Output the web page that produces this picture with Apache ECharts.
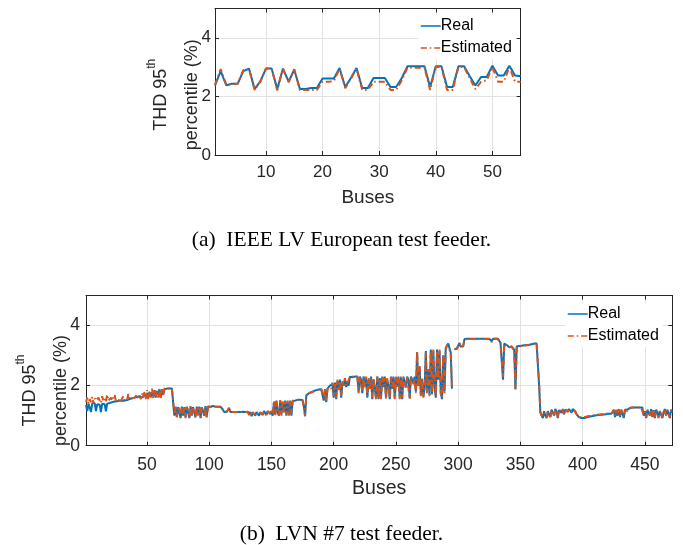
<!DOCTYPE html>
<html><head><meta charset="utf-8">
<script src="https://cdn.jsdelivr.net/npm/echarts@6.0.0/dist/echarts.min.js"></script>
<style>html,body{margin:0;padding:0;background:#fff}#c{width:683px;height:545px}</style>
</head><body><div id="c"></div>
<script>
// ---- data (a) IEEE LV European test feeder, buses 1..55 ----
const realA = [2.37,2.86,2.38,2.43,2.43,2.86,2.95,2.25,2.51,2.95,
  2.95,2.25,2.95,2.51,2.91,2.25,2.25,2.29,2.29,2.61,
  2.61,2.61,2.97,2.32,2.63,2.97,2.29,2.29,2.63,2.63,
  2.63,2.32,2.32,2.63,3.03,3.03,3.03,3.03,2.32,3.03,
  3.03,2.32,2.32,3.03,3.03,2.69,2.37,2.66,2.66,3.05,
  2.71,2.71,3.05,2.71,2.69];
const estA = [2.40,2.93,2.40,2.43,2.43,2.90,2.93,2.22,2.50,2.95,
  2.95,2.20,2.95,2.48,2.93,2.22,2.22,2.22,2.22,2.50,
  2.50,2.52,2.95,2.28,2.60,2.95,2.22,2.22,2.50,2.50,
  2.50,2.22,2.22,2.55,2.98,2.98,2.98,2.98,2.22,3.00,
  3.00,2.22,2.22,3.00,3.00,2.62,2.25,2.50,2.55,3.00,
  2.50,2.50,3.00,2.50,2.50];
// ---- data (b) LVN #7 test feeder, buses 1..472 ----
const realB = [1.35,1.15,1.4,1.38,1.12,1.4,1.36,1.42,1.15,1.38,
  1.4,1.36,1.12,1.4,1.42,1.38,1.14,1.4,1.45,1.42,
  1.48,1.45,1.5,1.47,1.5,1.48,1.52,1.5,1.48,1.5,
  1.52,1.5,1.55,1.52,1.5,1.55,1.6,1.58,1.62,1.6,
  1.58,1.62,1.6,1.65,1.62,1.6,1.65,1.7,1.62,1.75,
  1.6,1.8,1.62,1.78,1.65,1.85,1.6,1.82,1.7,1.88,
  1.62,1.85,1.7,1.88,1.9,1.9,1.9,1.9,1.9,1.9,
  1.92,1.0,1.3,0.95,1.28,1.25,0.92,1.3,1.0,1.28,
  0.95,1.3,1.25,0.92,1.3,1.0,1.28,1.3,0.95,1.3,
  1.05,1.3,0.92,1.28,1.3,1.0,1.32,0.95,1.3,1.28,
  1.3,1.3,1.32,1.3,1.3,1.28,1.3,1.3,1.3,1.3,
  1.2,1.12,1.12,1.12,1.15,1.25,1.12,1.12,1.12,1.12,
  1.12,1.12,1.12,1.13,1.12,1.12,1.13,1.12,1.12,1.12,
  1.13,1.05,1.12,0.98,1.1,1.12,1.0,1.12,1.1,1.0,
  1.12,1.15,1.02,1.15,1.1,1.02,1.15,1.12,1.05,1.15,
  1.0,1.45,1.05,1.5,1.1,1.0,1.48,1.05,1.45,1.15,
  1.5,1.0,1.45,1.05,1.5,1.0,1.48,1.5,1.5,1.52,
  1.53,1.53,1.53,1.54,1.52,1.3,0.98,1.68,1.72,1.74,
  1.76,1.78,1.8,1.82,1.83,1.85,1.86,1.87,1.88,1.88,
  1.9,1.5,1.88,1.45,1.9,1.92,2.0,1.95,2.05,1.6,
  2.1,1.55,2.15,1.9,2.2,1.6,2.1,2.0,2.2,1.95,
  2.15,2.0,2.3,2.3,2.28,2.3,2.3,2.32,2.3,1.8,
  2.3,2.2,1.75,2.3,2.0,2.25,1.6,2.2,1.9,2.3,
  1.55,2.2,1.9,1.6,2.3,1.55,2.25,1.6,2.3,1.95,
  2.3,1.6,2.2,2.0,1.55,2.3,1.9,2.3,1.6,2.25,
  2.0,2.3,1.6,2.25,1.55,2.3,2.1,1.95,2.3,2.2,
  1.6,2.3,2.25,2.1,2.3,1.8,3.1,2.0,2.6,1.7,
  2.2,1.65,1.9,3.15,1.8,2.5,1.7,3.2,1.75,3.15,
  2.0,1.6,3.2,2.2,3.15,1.75,1.55,3.0,1.8,3.25,
  3.3,3.4,3.25,3.1,1.9,null,3.2,3.22,3.25,3.2,
  3.42,3.3,3.25,3.3,3.55,3.56,3.56,3.55,3.56,3.56,
  3.56,3.56,3.56,3.56,3.56,3.56,3.56,3.56,3.56,3.56,
  3.56,3.56,3.56,3.56,3.56,3.56,3.48,3.56,3.56,3.57,
  3.57,3.56,3.52,3.42,3.4,2.2,3.4,3.45,3.35,3.3,
  3.28,3.3,3.3,3.32,3.2,1.87,3.3,3.3,3.32,3.32,
  3.33,3.33,3.34,3.34,3.35,3.35,3.36,3.37,3.38,3.38,
  3.4,3.4,3.4,3.4,2.0,1.1,1.05,0.92,1.15,1.0,
  0.92,1.15,1.1,0.95,1.2,1.1,1.0,1.22,1.15,0.92,
  1.18,1.2,1.1,1.22,1.05,1.2,1.22,1.15,1.22,1.2,
  1.1,1.22,1.2,1.15,1.05,1.0,0.95,0.92,0.92,0.92,
  0.92,0.93,0.94,0.95,0.96,0.97,0.98,0.99,1.0,1.0,
  1.01,1.02,1.02,1.03,1.03,1.04,1.04,1.05,1.05,1.05,
  1.06,1.06,1.06,1.07,1.2,0.95,1.18,1.0,1.22,0.95,
  1.2,1.15,0.92,1.2,1.15,1.2,1.25,1.25,1.26,1.27,
  1.27,1.27,1.27,1.27,1.27,1.27,1.26,1.27,1.0,1.15,
  0.92,1.18,1.2,1.0,1.22,0.95,1.18,0.92,1.2,1.1,
  0.95,1.15,1.2,0.92,1.1,1.22,1.0,1.2,1.15,0.92,
  1.2,1.1];
const estB = [1.45,1.6,1.4,1.55,1.45,1.62,1.4,1.58,1.5,1.45,
  1.6,1.5,1.42,1.65,1.48,1.55,1.45,1.7,1.5,1.55,
  1.6,1.5,1.52,1.7,1.5,1.55,1.48,1.58,1.5,1.52,
  1.65,1.5,1.55,1.52,1.72,1.55,1.6,1.58,1.62,1.6,
  1.6,1.7,1.58,1.65,1.55,1.75,1.6,1.8,1.55,1.85,
  1.55,1.8,1.6,1.9,1.55,1.88,1.65,1.85,1.6,1.9,
  1.55,1.88,1.65,1.9,1.85,1.9,1.88,1.9,1.9,1.9,
  1.9,1.05,1.28,0.95,1.3,1.2,0.95,1.28,1.05,1.3,
  0.92,1.28,1.2,0.95,1.32,1.0,1.25,1.3,0.92,1.28,
  1.0,1.3,0.95,1.3,1.25,1.05,1.3,0.92,1.32,1.25,
  1.3,1.3,1.3,1.3,1.3,1.3,1.3,1.3,1.3,1.28,
  1.18,1.12,1.12,1.12,1.18,1.28,1.1,1.12,1.12,1.12,
  1.12,1.12,1.12,1.12,1.12,1.12,1.12,1.12,1.12,1.12,
  1.12,1.02,1.1,1.0,1.12,1.1,1.02,1.1,1.12,1.02,
  1.1,1.15,1.05,1.12,1.12,1.0,1.15,1.1,1.08,1.18,
  1.05,1.5,1.02,1.48,1.15,1.02,1.52,1.0,1.5,1.1,
  1.48,1.05,1.5,1.0,1.48,1.05,1.5,1.5,1.52,1.5,
  1.52,1.53,1.52,1.53,1.5,1.25,1.0,1.7,1.72,1.75,
  1.77,1.78,1.8,1.81,1.83,1.85,1.86,1.86,1.88,1.9,
  1.88,1.55,1.9,1.5,1.88,1.95,2.0,1.9,2.1,1.65,
  2.05,1.6,2.2,1.85,2.15,1.65,2.15,1.95,2.25,2.0,
  2.1,2.05,2.28,2.3,2.3,2.28,2.32,2.3,2.3,1.75,
  2.28,2.25,1.8,2.3,1.95,2.3,1.65,2.25,1.85,2.28,
  1.6,2.25,1.85,1.55,2.3,1.6,2.2,1.55,2.28,2.0,
  2.25,1.55,2.25,1.95,1.6,2.28,1.95,2.25,1.55,2.3,
  1.95,2.25,1.55,2.3,1.6,2.25,2.15,1.9,2.28,2.25,
  1.55,2.28,2.3,2.05,2.25,1.75,3.15,1.95,2.65,1.65,
  2.25,1.6,1.95,3.1,1.75,2.55,1.65,3.15,1.7,3.2,
  1.95,1.65,3.15,2.25,3.2,1.7,1.6,3.05,1.75,3.2,
  3.35,3.38,3.2,3.05,1.95,null,3.22,3.2,3.22,3.25,
  3.4,3.28,3.22,3.32,3.53,3.55,3.55,3.55,3.55,3.55,
  3.55,3.55,3.55,3.55,3.55,3.55,3.55,3.55,3.55,3.55,
  3.55,3.55,3.55,3.55,3.55,3.55,3.45,3.55,3.55,3.55,
  3.55,3.55,3.5,3.4,3.38,2.3,3.38,3.42,3.32,3.28,
  3.28,3.3,3.3,3.3,3.15,1.9,3.28,3.3,3.3,3.32,
  3.32,3.33,3.33,3.34,3.34,3.35,3.35,3.36,3.37,3.38,
  3.38,3.4,3.4,3.38,2.1,1.15,1.0,0.95,1.12,1.02,
  0.95,1.12,1.12,0.92,1.18,1.12,0.98,1.2,1.12,0.95,
  1.2,1.18,1.12,1.2,1.02,1.22,1.2,1.12,1.2,1.22,
  1.12,1.2,1.22,1.12,1.08,1.0,0.98,0.95,0.94,0.94,
  0.95,0.96,0.97,0.98,0.99,1.0,1.0,1.01,1.02,1.02,
  1.03,1.03,1.04,1.04,1.05,1.05,1.06,1.06,1.07,1.07,
  1.08,1.08,1.08,1.09,1.18,0.98,1.2,0.98,1.2,0.98,
  1.18,1.12,0.95,1.22,1.12,1.18,1.25,1.26,1.27,1.27,
  1.27,1.27,1.27,1.27,1.27,1.27,1.27,1.26,1.02,1.12,
  0.95,1.2,1.18,1.02,1.2,0.98,1.2,0.95,1.18,1.12,
  0.92,1.18,1.18,0.95,1.12,1.2,1.02,1.18,1.12,0.95,
  1.18,1.12];
const seriesNames = ['Real', 'Estimated'];
const captions = ['(a)  IEEE LV European test feeder.', '(b)  LVN #7 test feeder.'];
const xName = 'Buses';
const yName = 'THD 95{s|th}\npercentile (%)';

const busesA = realA.map((_, i) => i + 1);
const busesB = realB.map((_, i) => i + 1);
const pairs = (xs, ys) => xs.map((x, i) => [x, ys[i] == null ? '-' : ys[i]]);

const FONT = '"Liberation Sans", Arial, Helvetica, sans-serif';
const SERIF = '"Liberation Serif", "Times New Roman", serif';
const INK = '#262626';
const GRIDC = '#e2e2e2';
const BLUE = '#0072BD', ORANGE = '#D95319';

function xAxes(gi, max, split, fs, margin, nameGap) {
  const base = {
    gridIndex: gi, type: 'value', min: 1, max: max, splitNumber: split,
    axisLine: { show: true, onZero: false, lineStyle: { color: INK, width: 1 } },
    axisTick: { show: true, inside: true, length: 4, lineStyle: { color: INK } },
  };
  return [
    Object.assign({}, base, {
      position: 'bottom',
      axisLabel: { fontFamily: FONT, fontSize: fs, color: INK, margin: margin, showMinLabel: false, showMaxLabel: false },
      splitLine: { show: true, lineStyle: { color: GRIDC, width: 1 } },
      name: xName, nameLocation: 'middle', nameGap: nameGap, nameMoveOverlap: false,
      nameTextStyle: { fontFamily: FONT, fontSize: fs + 2, color: INK }
    }),
    Object.assign({}, base, { position: 'top', axisLabel: { show: false }, splitLine: { show: false } })
  ];
}
function yAxes(gi, fs, margin, nameGap, shiftPad) {
  const base = {
    gridIndex: gi, type: 'value', min: 0, max: 5, interval: 2,
    axisLine: { show: true, onZero: false, lineStyle: { color: INK, width: 1 } },
    axisTick: { show: true, inside: true, length: 4, lineStyle: { color: INK } },
  };
  return [
    Object.assign({}, base, {
      position: 'left',
      axisLabel: { fontFamily: FONT, fontSize: fs, color: INK, margin: margin, showMaxLabel: false },
      splitLine: { show: true, lineStyle: { color: GRIDC, width: 1 } },
      name: yName, nameLocation: 'middle', nameGap: nameGap, nameMoveOverlap: false,
      nameTextStyle: { fontFamily: FONT, fontSize: 18, color: INK, lineHeight: 31, padding: [0, shiftPad, 0, 0],
        rich: { s: { fontFamily: FONT, fontSize: 12, color: INK, verticalAlign: 'top', lineHeight: 22 } } }
    }),
    Object.assign({}, base, { position: 'right', axisLabel: { show: false }, splitLine: { show: false } })
  ];
}
function lineSeries(name, data, xi, yi, color, dashed) {
  return {
    name: name, type: 'line', xAxisIndex: xi, yAxisIndex: yi, data: data,
    symbol: 'none', showSymbol: false, animation: false, connectNulls: false,
    lineStyle: { color: color, width: 2, type: dashed ? [6, 3, 1.5, 3] : 'solid' },
    itemStyle: { color: color }
  };
}
const legendBase = {
  orient: 'vertical', itemWidth: 20, itemHeight: 14, itemGap: 6,
  backgroundColor: '#fff', padding: [3, 4, 3, 2],
  textStyle: { fontFamily: FONT, fontSize: 16, color: '#000', padding: [0, 0, 0, -5] },
  itemStyle: { opacity: 0 }, lineStyle: { width: 1.5 }, data: seriesNames
};

const chart = echarts.init(document.getElementById('c'), null, { renderer: 'canvas' });
chart.setOption({
  backgroundColor: '#fff',
  animation: false,
  title: [
    { text: captions[0], left: 'center', top: 224, textStyle: { fontFamily: SERIF, fontSize: 21.5, fontWeight: 'normal', color: '#000' } },
    { text: captions[1], left: 'center', top: 518, textStyle: { fontFamily: SERIF, fontSize: 21.5, fontWeight: 'normal', color: '#000' } }
  ],
  grid: [
    { left: 215, top: 8.5, width: 305.7, height: 146.5, outerBoundsMode: 'none', containLabel: false },
    { left: 86, top: 295.5, width: 586.3, height: 150.2, outerBoundsMode: 'none', containLabel: false }
  ],
  legend: [
    Object.assign({}, legendBase, { left: 418, top: 15 }),
    Object.assign({}, legendBase, { left: 565, top: 303 })
  ],
  xAxis: [].concat(xAxes(0, 55, 5, 17, 9, 33), xAxes(1, 472, 10, 17.5, 10, 33)),
  yAxis: [].concat(yAxes(0, 17, 4, 7, 26), yAxes(1, 17.5, 6, 9, 40)),
  series: [
    lineSeries(seriesNames[0], pairs(busesA, realA), 0, 0, BLUE, false),
    lineSeries(seriesNames[1], pairs(busesA, estA), 0, 0, ORANGE, true),
    lineSeries(seriesNames[0], pairs(busesB, realB), 2, 2, BLUE, false),
    lineSeries(seriesNames[1], pairs(busesB, estB), 2, 2, ORANGE, true)
  ]
});
</script></body></html>
